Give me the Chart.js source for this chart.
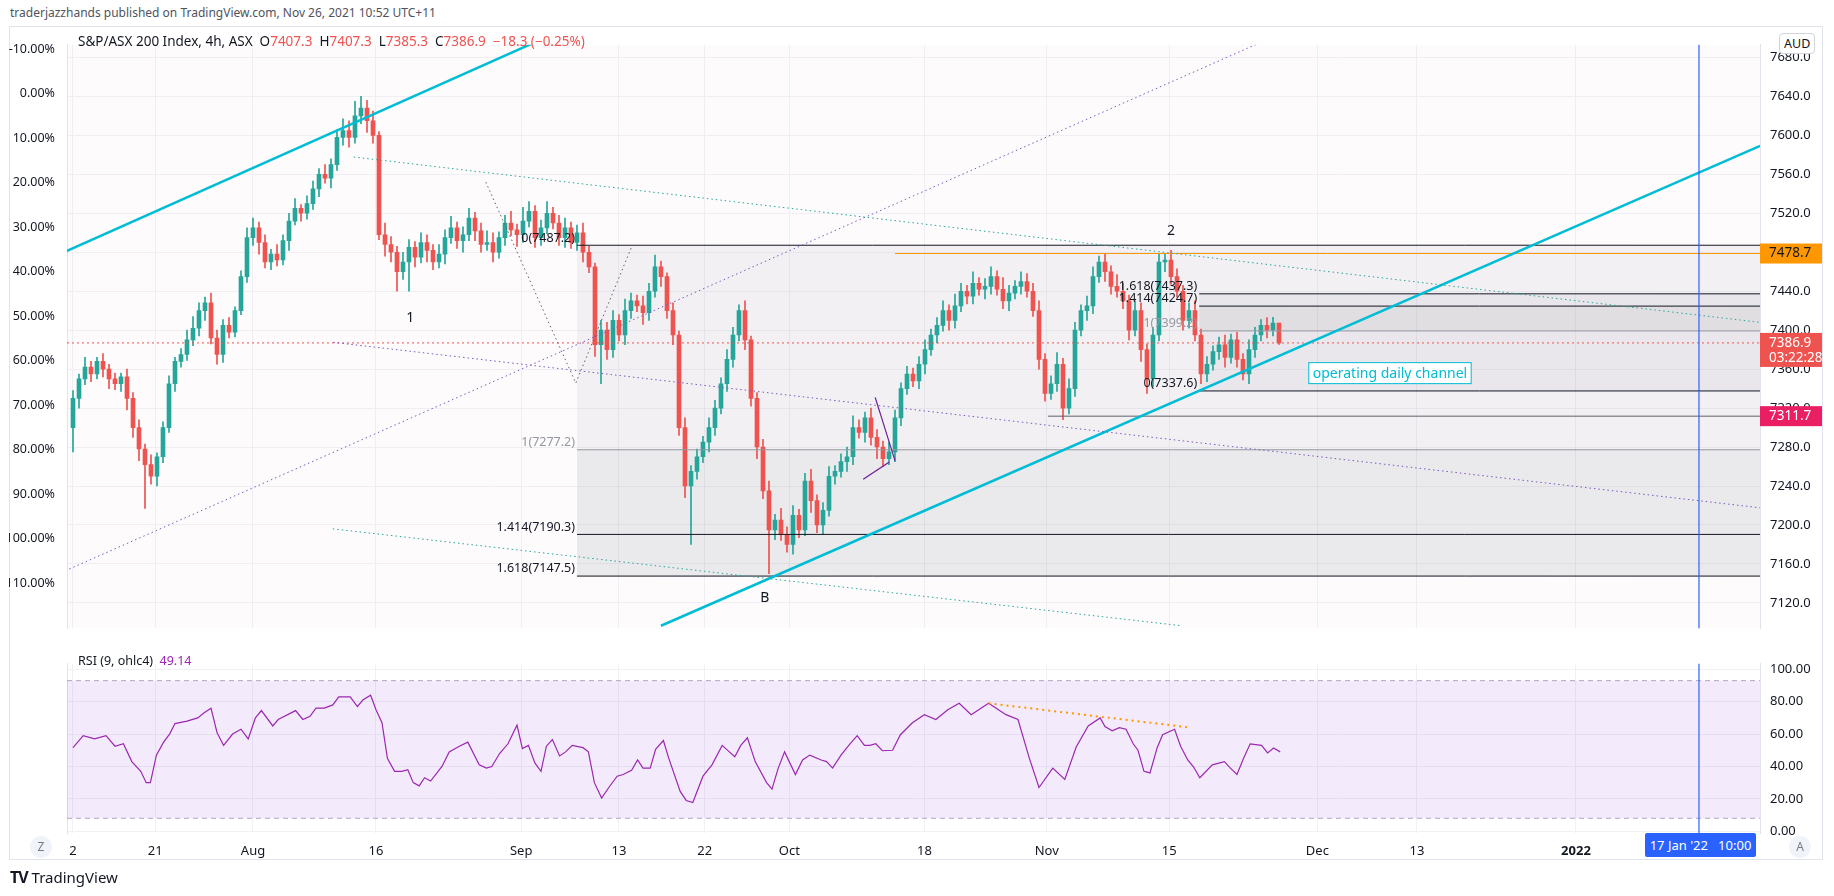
<!DOCTYPE html>
<html>
<head>
<meta charset="utf-8">
<script src="https://cdn.jsdelivr.net/npm/chart.js@4.4.0/dist/chart.umd.min.js"></script>
<style>
  body { margin:0; background:#fff; width:1834px; height:896px; position:relative; font-family:"Noto Sans", sans-serif; overflow:hidden; }
  .abs { position:absolute; white-space:nowrap; }
  #frame { position:absolute; left:9px; top:26px; width:1814px; height:834px; border:1px solid #e0e3eb; box-sizing:border-box; }
  #c1wrap { position:absolute; left:9px; top:27px; width:1815px; height:619px; }
  #c2wrap { position:absolute; left:9px; top:646px; width:1815px; height:215px; }
</style>
</head>
<body>
<div id="frame"></div>
<div id="c1wrap"><canvas id="price"></canvas></div>
<div id="c2wrap"><canvas id="rsi"></canvas></div>
<div class="abs" style="left:10px;top:4px;font-size:12px;color:#50535e">traderjazzhands published on TradingView.com, Nov 26, 2021 10:52 UTC+11</div>
<div class="abs" style="left:78px;top:32px;font-size:13.5px;color:#131722">S&amp;P/ASX 200 Index, 4h, ASX &nbsp;O<span style="color:#ef5350">7407.3</span> &nbsp;H<span style="color:#ef5350">7407.3</span> &nbsp;L<span style="color:#ef5350">7385.3</span> &nbsp;C<span style="color:#ef5350">7386.9</span> &nbsp;<span style="color:#ef5350">−18.3 (−0.25%)</span></div>
<div class="abs" style="left:78px;top:652px;font-size:12.5px;color:#131722">RSI (9, ohlc4) &nbsp;<span style="color:#9c27b0">49.14</span></div>
<div class="abs" style="left:1779px;top:33px;font-size:12.5px;color:#131722;background:#fff;border:1px solid #d1d4dc;border-radius:4px;padding:1px 4px">AUD</div>
<div class="abs" style="left:30px;top:836px;width:22px;height:22px;border-radius:11px;background:#f0f3fa;color:#787b86;font-size:12px;text-align:center;line-height:22px">Z</div>
<div class="abs" style="left:1789px;top:836px;width:22px;height:22px;border-radius:11px;background:#f0f3fa;color:#787b86;font-size:12px;text-align:center;line-height:22px">A</div>
<div class="abs" style="left:1645px;top:833px;width:111px;height:24px;background:#2962ff;color:#fff;font-size:13px;line-height:24px;text-align:center;border-radius:2px">17 Jan '22 &nbsp;&nbsp;10:00</div>
<div class="abs" style="left:10px;top:866px;font-size:15px;color:#131722"><b style="font-size:16px;letter-spacing:-1px">TV</b> TradingView</div>
<script>
// closes, one per 4h bar
const closes = [
  7330,7350,7362,7355,7368,7360,7350,7345,7352,7330,
  7300,7278,7262,7250,7270,7300,7345,7368,7375,7390,
  7402,7420,7428,7392,7375,7405,7398,7420,7455,7495,
  7505,7490,7470,7478,7472,7492,7512,7525,7520,7530,
  7545,7560,7556,7570,7598,7605,7598,7620,7628,7615,
  7600,7498,7488,7480,7460,7470,7485,7475,7490,7482,
  7470,7478,7495,7505,7492,7498,7515,7502,7488,7490,
  7480,7495,7510,7503,7498,7512,7522,7495,7505,7520,
  7510,7495,7505,7490,7500,7480,7465,7385,7400,7380,
  7410,7395,7420,7430,7425,7418,7440,7465,7455,7420,
  7395,7300,7240,7255,7270,7285,7300,7320,7345,7370,
  7395,7420,7390,7330,7280,7235,7195,7205,7190,7180,
  7210,7195,7245,7225,7200,7215,7250,7255,7265,7270,
  7300,7295,7310,7290,7280,7268,7275,7310,7340,7355,
  7348,7365,7380,7395,7405,7420,7410,7425,7440,7435,
  7448,7442,7445,7455,7442,7430,7438,7445,7450,7440,
  7420,7370,7335,7345,7365,7320,7340,7400,7420,7425,
  7455,7470,7460,7445,7440,7430,7400,7420,7380,7350,
  7395,7470,7472,7455,7440,7410,7420,7395,7355,7365,
  7378,7385,7372,7390,7370,7355,7380,7395,7405,7400,
  7407.3,7386.9
];
const firstOpen = 7300;
const wickUp = [
  8,5,10,6,4,8,5,6,4,8, 6,8,5,10,4,6,8,4,6,10, 12,8,6,10,8,6,8,4,6,10, 10,6,8,5,10,6,8,10,4,8,
  8,6,10,6,8,12,10,15,12,8, 10,4,12,8,6,10,8,6,10,8, 6,10,8,12,6,8,10,6,8,12, 10,6,8,12,6,14,10,6,8,12,
  6,8,10,6,8,10,6,4,10,8, 10,6,12,8,6,10,8,12,6,4, 8,4,10,6,8,6,10,8,6,10, 8,6,10,4,6,8,10,6,12,8,
  10,6,8,12,6,8,10,6,8,10, 12,8,6,10,8,6,10,8,6,8, 6,8,10,6,8,10,6,12,8,6, 12,6,8,10,6,12,8,6,10,8,
  8,10,6,8,12,6,10,8,6,10, 10,6,8,6,12,8,6,10,8,6, 8,9,6,10,8,6,8,10,6,8, 6,8,10,6,8,6,10,8,6,8,
  6,0
];
const wickDn = [
  25,10,6,8,5,8,10,6,8,12, 10,12,45,8,10,6,5,8,6,6, 6,8,10,6,10,8,6,5,4,6, 8,12,6,8,6,5,10,4,8,6,
  6,8,5,10,6,8,10,6,8,12, 8,5,12,10,20,8,30,10,6,12, 8,6,10,6,8,12,6,10,8,6, 10,6,8,6,12,8,6,10,8,6,
  6,8,10,6,8,10,6,12,40,10, 8,6,10,8,6,12,8,6,10,8, 10,8,12,60,8,6,10,8,6,8, 8,6,10,8,12,8,45,10,6,8,
  10,8,6,12,8,10,6,8,6,10, 8,6,10,8,12,8,6,10,8,6, 6,8,10,6,8,6,10,8,6,8, 8,6,10,8,6,8,10,6,8,6,
  6,10,8,6,8,12,6,8,6,10, 8,6,10,8,6,8,10,6,12,15, 8,6,10,8,6,10,8,6,10,8, 6,8,10,6,8,6,10,8,6,8,
  6,1.6
];
// RSI(9, ohlc4): bar index and value
const rsiBars = [0,1.7,3.6,5.5,7,8.4,9.8,11.3,12.2,12.9,13.9,15.1,16.1,17,19,20.8,21.8,23,24,25.1,26.6,28,29.2,30.4,31.4,33.3,34.2,37.1,38.3,39.5,40.5,41.9,43.3,44.3,46.2,47.4,48.3,49.6,50.5,51.5,52.4,53.6,54.8,55.8,56.7,57.7,58.6,59.6,61.5,62.7,64.4,65.8,67.7,68.9,69.8,71.1,72.5,74,74.9,75.9,77,78,78.9,79.9,81.1,82.1,83.2,85,85.9,86.9,88.1,89.3,90.7,91.7,93.1,94.1,95,96.2,97.1,98.4,99.3,101.2,102.2,103.3,105,106.5,108.2,109.4,110.3,111.3,112.4,113.7,115.6,116.5,117.5,118.6,120.4,121.6,122.8,124.7,125.6,126.6,128,129.5,130.7,131.9,132.8,133.8,134.9,136.6,137.9,139.9,141.9,143.8,145.8,147.7,149.7,152.6,155.5,157.5,159.4,161,163.3,165.3,167.2,169.2,171.2,172,173.2,174.4,175.5,176.7,177.5,178.5,179.5,180.7,181.6,183.6,184.6,185.8,186.8,187.8,189.9,191.9,192.9,194,195.1,196.2,198.1,199.1,200.1,201.2];
const rsiVals = [51.6,59,57,59,52.5,54,43,37,30,30,47,55,60,66.5,68,70,73,76,61,53,60,63,57,70,74.5,65,69,74.5,69,71,76,76,78,83,83,77,81,84,75,67,45,37,37,38,30,28,33,31,40,49,52.5,55,41,39,40,48,54,65.5,51,53,42,37,52.5,56.6,46.5,49,53,51.6,49,30,20.5,27,34,35,37.6,44,39,39,50.6,56,45,24.6,19,17.7,34,41,53,49,46,53,57.7,43,30,26,38.5,49,35,44,47,44,43,39,47,54,59,53,53,54,49.7,50,59.6,67,72,69,75,79,72,79,72,69,45,27,39,32,52,65,70,64.6,62,64,63,54,50,37,36,51.6,59.6,63,52.5,44,39.5,33,41,43,39,35,45,54,53,48.4,51.4,49];
const tickBars = [0,13.7,30,50.5,74.7,91,105.3,119.4,141.9,162.3,182.7,207.4,224,250.5];
const tickLabels = ['2','21','Aug','16','Sep','13','22','Oct','18','Nov','15','Dec','13','2022'];
const priceTicks = [7120,7160,7200,7240,7280,7320,7360,7400,7440,7480,7520,7560,7600,7640,7680];
const pctTicks = [-10,0,10,20,30,40,50,60,70,80,90,100,110];
const rsiTicks = [0,20,40,60,80,100];
const fib1 = [[0,7487.2],[1,7277.2],[1.414,7190.3],[1.618,7147.5]];
const fib2 = [[1.618,7437.3],[1.414,7424.7],[1,7399.2],[0,7337.6]];
const lastPrice = 7386.9, highLevel = 7478.7, lowLevel = 7311.7;

const UP = '#26a69a', DN = '#ef5350';
const opens = closes.map((c, i) => i === 0 ? firstOpen : closes[i - 1]);
const bodies = closes.map((c, i) => ({x: i, y: [opens[i], c]}));
const wicks = closes.map((c, i) => ({x: i, y: [Math.min(opens[i], c) - wickDn[i], Math.max(opens[i], c) + wickUp[i]]}));
const colors = closes.map((c, i) => c >= opens[i] ? UP : DN);

const XMIN = -1, XMAX = 281.17, VLINE = 271;
Chart.defaults.font = {family: 'Noto Sans', size: 12.5};
Chart.defaults.color = '#131722';

function xAxis(showTicks) {
  return {
    type: 'linear', min: XMIN, max: XMAX, offset: false,
    afterBuildTicks: s => { s.ticks = tickBars.map(v => ({value: v})); },
    ticks: {display: showTicks, callback: (v, i) => tickLabels[i], maxRotation: 0, autoSkip: false, padding: 10,
            font: c => ({family: 'Noto Sans', size: 13, weight: tickLabels[c.index] === '2022' ? 'bold' : 'normal'})},
    grid: {color: '#f0f1f5', drawTicks: false, offset: false},
    border: {display: false},
    afterFit: s => { s.height = showTicks ? 28 : 0; }
  };
}

function line(ctx, pts, color, width, dash) {
  ctx.save(); ctx.strokeStyle = color; ctx.lineWidth = width; ctx.setLineDash(dash || []);
  ctx.beginPath(); pts.forEach((p, i) => i ? ctx.lineTo(p[0], p[1]) : ctx.moveTo(p[0], p[1])); ctx.stroke(); ctx.restore();
}
function label(ctx, txt, x, y, color, align, size) {
  ctx.save(); ctx.fillStyle = color; ctx.font = (size || 12.5) + 'px "Noto Sans"'; ctx.textAlign = align || 'left';
  ctx.textBaseline = 'bottom'; ctx.fillText(txt, x, y); ctx.restore();
}

const drawings = {
  id: 'drawings',
  beforeDatasetsDraw(chart) {
    const {ctx, chartArea: a, scales: {x, y}} = chart;
    const X = v => x.getPixelForValue(v), Y = v => y.getPixelForValue(v);
    ctx.save();
    ctx.beginPath(); ctx.rect(a.left, a.top, a.width, a.height); ctx.clip();
    ctx.fillStyle = 'rgba(240,220,230,0.12)'; ctx.fillRect(a.left, a.top, a.width, a.height);
    const x1 = X(84), x3 = X(187.7);
    ctx.fillStyle = 'rgba(120,120,135,0.08)'; ctx.fillRect(x1, Y(fib1[0][1]), a.right - x1, Y(fib1[1][1]) - Y(fib1[0][1]));
    ctx.fillStyle = 'rgba(120,120,135,0.14)'; ctx.fillRect(x1, Y(fib1[1][1]), a.right - x1, Y(fib1[3][1]) - Y(fib1[1][1]));
    ctx.fillStyle = 'rgba(120,120,135,0.08)'; ctx.fillRect(x3, Y(fib2[0][1]), a.right - x3, Y(fib2[1][1]) - Y(fib2[0][1]));
    ctx.fillStyle = 'rgba(120,110,130,0.14)'; ctx.fillRect(x3, Y(fib2[1][1]), a.right - x3, Y(fib2[2][1]) - Y(fib2[1][1]));
    ctx.fillStyle = 'rgba(120,120,135,0.07)'; ctx.fillRect(x3, Y(fib2[2][1]), a.right - x3, Y(fib2[3][1]) - Y(fib2[2][1]));
    ctx.restore();
  },
  afterDatasetsDraw(chart) {
    const {ctx, chartArea: a, scales: {x, y}} = chart;
    const X = v => x.getPixelForValue(v), Y = v => y.getPixelForValue(v);
    const P = (b, p) => [X(b), Y(p)];
    ctx.save();
    ctx.beginPath(); ctx.rect(a.left, a.top, a.width, a.height); ctx.clip();
    fib1.forEach(([k, p]) => {
      line(ctx, [P(84, p), [a.right, Y(p)]], k === 1 ? '#9598a1' : '#131722', 1);
      label(ctx, k + '(' + p.toFixed(1) + ')', X(84) - 2, Y(p) - 1, k === 1 ? '#9598a1' : '#131722', 'right');
    });
    fib2.forEach(([k, p]) => {
      line(ctx, [P(187.7, p), [a.right, Y(p)]], k === 1 ? '#9598a1' : '#131722', 1);
      label(ctx, k + '(' + p.toFixed(1) + ')', X(187.7) - 2, Y(p) - 1, k === 1 ? '#9598a1' : '#131722', 'right');
    });
    line(ctx, [P(162.5, lowLevel), [a.right, Y(lowLevel)]], '#5d606b', 1);
    line(ctx, [P(137, highLevel), [a.right, Y(highLevel)]], '#ff9800', 1);
    line(ctx, [[a.left, Y(lastPrice)], [a.right, Y(lastPrice)]], '#ef5350', 1, [2, 3]);
    // trend channels
    line(ctx, [P(-2, 7478.6), P(77.5, 7697)], '#00bcd4', 2.5);
    line(ctx, [P(98, 7096.5), P(281.2, 7589.2)], '#00bcd4', 2.5);
    line(ctx, [P(-2, 7151), P(198.4, 7696.7)], '#7e57c2', 1, [1.5, 3]);
    line(ctx, [P(43.4, 7387.5), P(281.2, 7217.6)], '#7e57c2', 1, [1.5, 3]);
    line(ctx, [P(46.8, 7577.8), P(281.2, 7408)], '#26a69a', 1, [1.5, 3]);
    line(ctx, [P(43.3, 7196), P(184.8, 7096.5)], '#26a69a', 1, [1.5, 3]);
    line(ctx, [P(68.8, 7552), P(83.8, 7345.7), P(93.2, 7487)], '#5d606b', 1, [1.5, 3]);
    line(ctx, [P(131.7, 7247), P(136, 7264.4)], '#6a1b9a', 1.2);
    line(ctx, [P(133.7, 7331), P(137, 7266)], '#6a1b9a', 1.2);
    label(ctx, '1', X(56.2), Y(7405), '#131722', 'center', 14);
    label(ctx, '2', X(183), Y(7495), '#131722', 'center', 14);
    label(ctx, 'B', X(115.3), Y(7118), '#131722', 'center', 14);
    ctx.font = '14px "Noto Sans"';
    const t = 'operating daily channel', tw = ctx.measureText(t).width, cx = X(219.5), cy = Y(7356.4);
    ctx.fillStyle = '#fff'; ctx.fillRect(cx - tw / 2 - 4, cy - 10, tw + 8, 21);
    ctx.strokeStyle = '#00bcd4'; ctx.lineWidth = 1; ctx.strokeRect(cx - tw / 2 - 4, cy - 10, tw + 8, 21);
    ctx.fillStyle = '#00bcd4'; ctx.textAlign = 'center'; ctx.textBaseline = 'middle'; ctx.fillText(t, cx, cy + 1);
    ctx.restore();
    line(ctx, [[X(VLINE), a.top], [X(VLINE), a.bottom]], '#2962ff', 1.2);
    const tag = (p, bg, fg, sub) => {
      const yy = Y(p), h = sub ? 34 : 20;
      ctx.save(); ctx.fillStyle = bg; ctx.fillRect(a.right, yy - 10, 62, h);
      ctx.fillStyle = fg; ctx.font = '13.5px "Noto Sans"'; ctx.textAlign = 'left'; ctx.textBaseline = 'middle';
      ctx.fillText(p.toFixed(1), a.right + 9, yy);
      if (sub) ctx.fillText(sub, a.right + 9, yy + 15);
      ctx.restore();
    };
    tag(highLevel, '#ff9800', '#131722');
    tag(lastPrice, '#ef5350', '#fff', '03:22:28');
    tag(lowLevel, '#e91e63', '#fff');
  }
};

new Chart(document.getElementById('price'), {
  type: 'bar',
  data: {datasets: [
    {data: wicks, backgroundColor: colors, barThickness: 1, grouped: false, order: 2},
    {data: bodies, backgroundColor: colors, barThickness: 4, minBarLength: 1, grouped: false, order: 1}
  ]},
  options: {
    responsive: true, maintainAspectRatio: false, animation: false,
    layout: {padding: 0},
    plugins: {legend: {display: false}, tooltip: {enabled: false}},
    scales: {
      x: xAxis(false),
      y: {position: 'right', min: 7094, max: 7693,
          afterBuildTicks: s => { s.ticks = priceTicks.map(v => ({value: v})); },
          ticks: {callback: v => v.toFixed(1), padding: 10, font: {family: 'Noto Sans', size: 13}},
          grid: {color: '#f0f1f5', drawTicks: false}, border: {color: '#e0e3eb'},
          afterFit: s => { s.width = 64; }},
      pct: {position: 'left', reverse: true, min: -11.0, max: 120.1,
          afterBuildTicks: s => { s.ticks = pctTicks.map(v => ({value: v})); },
          ticks: {callback: v => v.toFixed(2) + '%', padding: 4, font: {family: 'Noto Sans', size: 12.5}},
          grid: {display: false}, border: {color: '#e0e3eb'},
          afterFit: s => { s.width = 58; }}
    }
  },
  plugins: [drawings]
});

const rsiDecor = {
  id: 'rsiDecor',
  beforeDatasetsDraw(chart) {
    const {ctx, chartArea: a, scales: {y}} = chart;
    ctx.save();
    ctx.fillStyle = 'rgba(155,81,224,0.12)';
    ctx.fillRect(a.left, y.getPixelForValue(93), a.width, y.getPixelForValue(8) - y.getPixelForValue(93));
    [93, 8].forEach(v => line(ctx, [[a.left, y.getPixelForValue(v)], [a.right, y.getPixelForValue(v)]], '#b2a6c4', 1, [5, 4]));
    ctx.restore();
  },
  afterDatasetsDraw(chart) {
    const {ctx, chartArea: a, scales: {x, y}} = chart;
    line(ctx, [[x.getPixelForValue(152.6), y.getPixelForValue(79)], [x.getPixelForValue(186.3), y.getPixelForValue(64)]], '#ff9800', 2, [2, 4]);
    line(ctx, [[x.getPixelForValue(VLINE), a.top], [x.getPixelForValue(VLINE), a.bottom]], '#2962ff', 1.2);
  }
};

new Chart(document.getElementById('rsi'), {
  type: 'line',
  data: {datasets: [{data: rsiBars.map((b, i) => ({x: b, y: rsiVals[i]})), borderColor: '#9c27b0', borderWidth: 1.2, pointRadius: 0, tension: 0}]},
  options: {
    responsive: true, maintainAspectRatio: false, animation: false,
    layout: {padding: 0},
    plugins: {legend: {display: false}, tooltip: {enabled: false}},
    scales: {
      x: xAxis(true),
      y: {position: 'right', min: -1.1, max: 103.4,
          afterBuildTicks: s => { s.ticks = rsiTicks.map(v => ({value: v})); },
          ticks: {callback: v => v.toFixed(2), padding: 10, font: {family: 'Noto Sans', size: 13}},
          grid: {color: '#f0f1f5', drawTicks: false}, border: {color: '#e0e3eb'},
          afterFit: s => { s.width = 64; }},
      yl: {position: 'left', min: 0, max: 1, ticks: {display: false}, grid: {display: false}, border: {color: '#e0e3eb'},
          afterFit: s => { s.width = 58; }}
    }
  },
  plugins: [rsiDecor]
});
</script>
</body>
</html>
